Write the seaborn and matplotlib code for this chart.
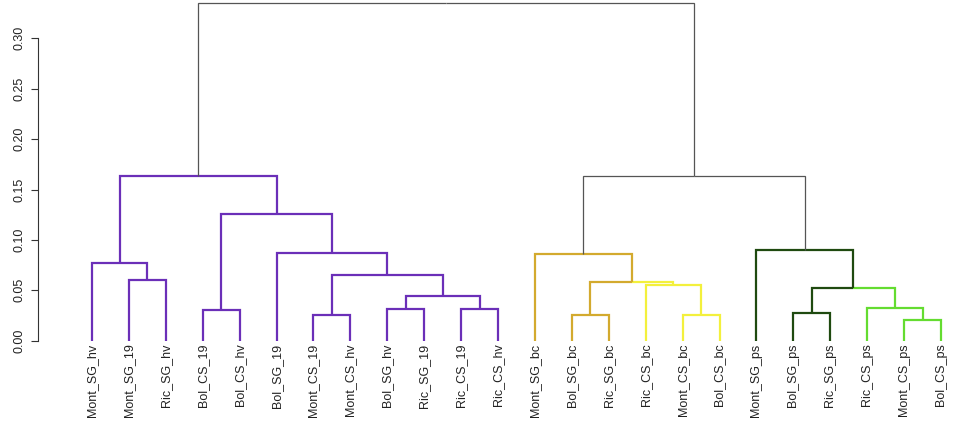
"""
Dendrogram of samples (hv / 19 / bc / ps groups), R-style coloured branches.
scipy is not assumed, so the tree is laid out by hand from the merge list.
"""
import matplotlib
matplotlib.use("Agg")
import matplotlib.pyplot as plt
import seaborn as sns

# ── data ────────────────────────────────────────────────────────────────────
leaf_labels = [
    "Mont_SG_hv", "Mont_SG_19", "Ric_SG_hv", "Bol_CS_19", "Bol_CS_hv",
    "Bol_SG_19", "Mont_CS_19", "Mont_CS_hv", "Bol_SG_hv", "Ric_SG_19",
    "Ric_CS_19", "Ric_CS_hv",
    "Mont_SG_bc", "Bol_SG_bc", "Ric_SG_bc", "Ric_CS_bc", "Mont_CS_bc",
    "Bol_CS_bc", "Mont_SG_ps", "Bol_SG_ps", "Ric_SG_ps", "Ric_CS_ps",
    "Mont_CS_ps", "Bol_CS_ps",
]
# cluster colour of each leaf's own branch
leaf_groups = (["purple"] * 12 + ["gold"] * 3 + ["yellow"] * 3
               + ["dkgreen"] * 3 + ["ltgreen"] * 3)

# merges: name -> (left child, right child, height, branch group)
# children are leaf indices (int) or earlier merge names
merge_names = ["A", "B", "C", "D", "E", "F", "G", "H", "I", "J", "K",
               "L", "M", "N", "O", "P", "Q", "R", "S", "T", "U", "V", "root"]
merge_left = [1, 0, 3, 6, 8, 10, "E", "D", 5, "C", "B",
              13, 16, 15, "L", 12, 19, 22, 21, "Q", 18, "P", "K"]
merge_right = [2, "A", 4, 7, 9, 11, "F", "G", "H", "I", "J",
               14, 17, "M", "N", "O", 20, 23, "R", "S", "T", "U", "V"]
merge_height = [0.0602, 0.0774, 0.0305, 0.0255, 0.0311, 0.0318, 0.0447,
                0.0652, 0.0867, 0.1255, 0.1634,
                0.0258, 0.0252, 0.0550, 0.0582, 0.0857, 0.0272, 0.0202,
                0.0328, 0.0520, 0.0900, 0.1638, 0.3350]
merge_group = ["purple"] * 10 + ["top"] + \
              ["gold", "yellow", "yellow", "gold", "top",
               "dkgreen", "ltgreen", "ltgreen", "dkgreen", "top", "top", "top"]

y_ticks = [0.00, 0.05, 0.10, 0.15, 0.20, 0.25, 0.30]

palette = {
    "purple": "#6b2fb8",
    "gold": "#d3aa2e",
    "yellow": "#f3f03c",
    "dkgreen": "#1f4a10",
    "ltgreen": "#64dc30",
    "top": "#555555",
}
widths = {k: 1.6 for k in palette}
widths["top"] = 0.9

# ── layout ──────────────────────────────────────────────────────────────────
sns.set_style("white")
plt.rcParams["font.family"] = ["Liberation Sans", "DejaVu Sans"]

node_x, node_y, node_g = {}, {}, {}
for i, g in enumerate(leaf_groups):
    node_x[i], node_y[i], node_g[i] = i + 1, 0.0, g
for nm, l, r, h, g in zip(merge_names, merge_left, merge_right,
                          merge_height, merge_group):
    node_x[nm] = (node_x[l] + node_x[r]) / 2
    node_y[nm], node_g[nm] = h, g

fig = plt.figure(figsize=(9.64, 4.24), dpi=100)
ax = fig.add_axes([38 / 964, 83.3 / 424, 921.5 / 964, 340.7 / 424])

# each child gets an elbow: along the parent height, then down to the child
for nm, l, r in zip(merge_names, merge_left, merge_right):
    px, py = node_x[nm], node_y[nm]
    for ch in (l, r):
        g = node_g[ch]
        ax.plot([px, node_x[ch], node_x[ch]], [py, py, node_y[ch]],
                color=palette[g], lw=widths[g], solid_capstyle="butt",
                solid_joinstyle="miter", clip_on=False)

ax.set_xlim(1 - 54 / 36.91, 24.5)
ax.set_ylim(0, 0.338)

ax.set_xticks(range(1, len(leaf_labels) + 1))
ax.set_xticklabels(leaf_labels, rotation=90, fontsize=9, color="#222222",
                   va="top", ha="center")
ax.tick_params(axis="x", length=0, pad=2)

ax.set_yticks(y_ticks)
ax.set_yticklabels([f"{v:.2f}" for v in y_ticks], rotation=90, fontsize=9,
                   color="#222222", va="center", ha="right")
ax.tick_params(axis="y", length=5, width=0.8, pad=4, color="#333333",
               direction="out", left=True)

for side in ("top", "right", "bottom"):
    ax.spines[side].set_visible(False)
ax.spines["left"].set_bounds(0, 0.30)
ax.spines["left"].set_linewidth(0.8)
ax.spines["left"].set_color("#333333")
ax.patch.set_alpha(0)

fig.savefig("out.png", dpi=100, facecolor="white")
